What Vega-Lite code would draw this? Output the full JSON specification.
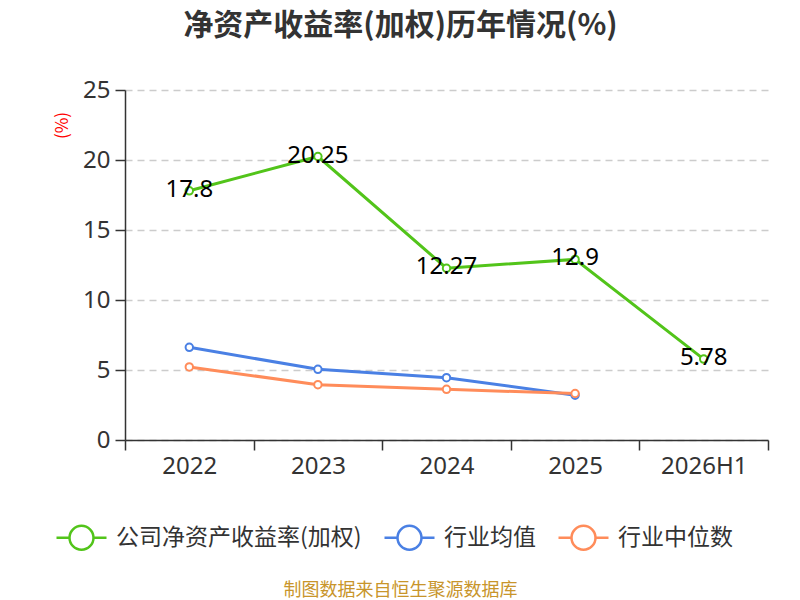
{
  "$schema": "https://vega.github.io/schema/vega-lite/v6.json",
  "width": 643,
  "height": 350,
  "autosize": "none",
  "padding": {"left": 125, "top": 90, "right": 32, "bottom": 160},
  "background": "white",
  "title": {
    "text": "净资产收益率(加权)历年情况(%)",
    "fontSize": 30,
    "fontWeight": "bold",
    "color": "#333333",
    "font": "Noto Sans CJK SC",
    "anchor": "middle",
    "dx": -46,
    "offset": 37
  },
  "data": {
    "values": [
      {"period": "2022", "series": "公司净资产收益率(加权)", "value": 17.8},
      {"period": "2023", "series": "公司净资产收益率(加权)", "value": 20.25},
      {"period": "2024", "series": "公司净资产收益率(加权)", "value": 12.27},
      {"period": "2025", "series": "公司净资产收益率(加权)", "value": 12.9},
      {"period": "2026H1", "series": "公司净资产收益率(加权)", "value": 5.78},
      {"period": "2022", "series": "行业均值", "value": 6.62},
      {"period": "2023", "series": "行业均值", "value": 5.05},
      {"period": "2024", "series": "行业均值", "value": 4.45},
      {"period": "2025", "series": "行业均值", "value": 3.2},
      {"period": "2022", "series": "行业中位数", "value": 5.22},
      {"period": "2023", "series": "行业中位数", "value": 3.95},
      {"period": "2024", "series": "行业中位数", "value": 3.62},
      {"period": "2025", "series": "行业中位数", "value": 3.32}
    ]
  },
  "encoding": {
    "x": {
      "field": "period",
      "type": "ordinal",
      "bandPosition": 0.5,
      "sort": ["2022", "2023", "2024", "2025", "2026H1"],
      "scale": {"type": "band", "paddingInner": 0, "paddingOuter": 0, "domain": ["2022", "2023", "2024", "2025", "2026H1"]},
      "axis": {
        "title": "制图数据来自恒生聚源数据库",
        "titleColor": "#c8952b",
        "titleFontSize": 18,
        "titleFontWeight": "normal",
        "titleFont": "Noto Sans CJK SC",
        "titleX": 275,
        "titleY": 150,
        "titleBaseline": "middle",
        "titleAnchor": "middle",
        "titleAlign": "center",
        "labelAngle": 0,
        "labelFontSize": 24,
        "labelColor": "#333333",
        "labelFont": "Noto Sans",
        "labelPadding": 4,
        "tickBand": "extent",
        "tickSize": 10,
        "tickColor": "#333333",
        "tickWidth": 1.5,
        "domainColor": "#333333",
        "domainWidth": 1.5,
        "grid": false
      }
    },
    "y": {
      "field": "value",
      "type": "quantitative",
      "scale": {"domain": [0, 25], "nice": false, "zero": true},
      "axis": {
        "values": [0, 5, 10, 15, 20, 25],
        "title": "(%)",
        "titleColor": "#ff0000",
        "titleFontSize": 17,
        "titleFontWeight": "normal",
        "titleFont": "Noto Sans CJK SC",
        "titleX": -63,
        "titleY": 35,
        "titleAngle": -90,
        "titleAlign": "center",
        "titleBaseline": "middle",
        "labelFontSize": 24,
        "labelColor": "#333333",
        "labelFont": "Noto Sans",
        "labelPadding": 5,
        "tickSize": 10,
        "tickColor": "#333333",
        "tickWidth": 1.5,
        "domainColor": "#333333",
        "domainWidth": 1.5,
        "grid": true,
        "gridColor": "#cccccc",
        "gridDash": [7, 5],
        "gridWidth": 1.5
      }
    },
    "color": {
      "field": "series",
      "type": "nominal",
      "scale": {
        "domain": ["公司净资产收益率(加权)", "行业均值", "行业中位数"],
        "range": ["#52c41a", "#4a80e4", "#ff8c5a"]
      },
      "legend": {
        "orient": "none",
        "direction": "horizontal",
        "legendX": -70,
        "legendY": 421,
        "title": null,
        "symbolType": "M-1,0H-0.48M0.48,0H1M-0.48,0A0.48,0.48,0,1,0,0.48,0A0.48,0.48,0,1,0,-0.48,0",
        "symbolSize": 2500,
        "symbolStrokeWidth": 2.5,
        "symbolFillColor": "white",
        "labelFontSize": 23,
        "labelFont": "Noto Sans CJK SC",
        "labelColor": "#333333",
        "labelOffset": 8,
        "columnPadding": 17,
        "labelLimit": 400
      }
    }
  },
  "layer": [
    {
      "mark": {"type": "line", "strokeWidth": 3}
    },
    {
      "mark": {"type": "point", "shape": "circle", "filled": false, "fill": "white", "fillOpacity": 1, "size": 55, "strokeWidth": 2, "opacity": 1}
    },
    {
      "transform": [{"filter": "datum.series === '公司净资产收益率(加权)'"}],
      "mark": {"type": "text", "fontSize": 24, "font": "Noto Sans", "color": "black", "baseline": "middle", "dy": -1},
      "encoding": {
        "text": {"field": "value", "type": "quantitative"},
        "color": {"value": "black"}
      }
    }
  ],
  "config": {
    "view": {"stroke": null}
  }
}
